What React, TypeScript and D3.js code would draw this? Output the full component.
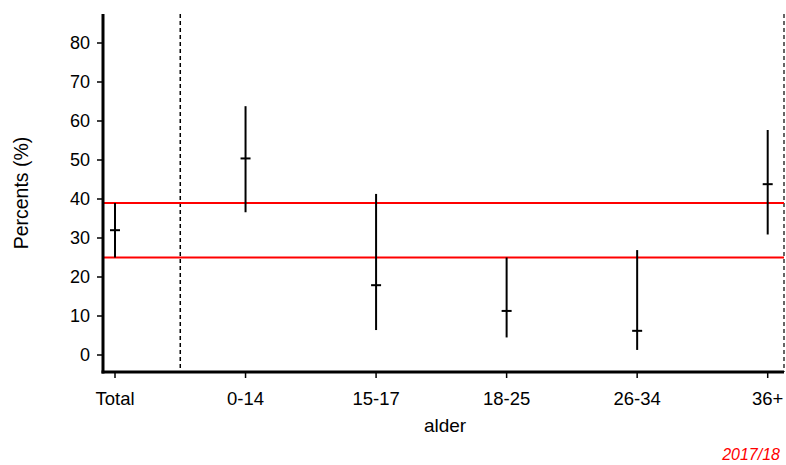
import React from "react";
import * as d3 from "d3";

const categories = ["Total", "0-14", "15-17", "18-25", "26-34", "36+"];
const means = [32.0, 50.4, 17.9, 11.3, 6.2, 43.8];
const lowers = [25.0, 36.6, 6.4, 4.5, 1.3, 30.9];
const uppers = [39.0, 63.8, 41.3, 25.0, 26.9, 57.7];
const refLines = [25.0, 39.0];
const yTicks = [0, 10, 20, 30, 40, 50, 60, 70, 80];

const W = 786;
const H = 465;
const FONT = "'Liberation Sans', Arial, sans-serif";

export default function App() {
  const plotLeft = 103;
  const plotRight = 784;
  const plotTop = 14;
  const plotBottom = 372;

  const x = d3.scalePoint<string>().domain(categories).range([115, 767.7]);
  const y = d3.scaleLinear().domain([0, 80]).range([355, 43]);

  const sepX = ((x(categories[0]) as number) + (x(categories[1]) as number)) / 2;

  return (
    <svg
      width={W}
      height={H}
      style={{ position: "absolute", left: 0, top: 0, background: "#fff" }}
      fontFamily={FONT}
    >
      {/* dashed separators */}
      <line x1={sepX} x2={sepX} y1={plotTop} y2={plotBottom} stroke="#000" strokeWidth={1.5} strokeDasharray="4,3" />
      <line x1={plotRight} x2={plotRight} y1={plotTop} y2={plotBottom} stroke="#000" strokeWidth={1.2} strokeDasharray="4,3" />

      {/* reference lines */}
      {refLines.map((v, i) => (
        <line key={i} x1={plotLeft} x2={plotRight} y1={y(v)} y2={y(v)} stroke="#ff0000" strokeWidth={2} />
      ))}

      {/* error bars */}
      {categories.map((c, i) => {
        const cx = x(c) as number;
        return (
          <g key={c}>
            <line x1={cx} x2={cx} y1={y(uppers[i])} y2={y(lowers[i])} stroke="#000" strokeWidth={2} />
            <line x1={cx - 5} x2={cx + 5} y1={y(means[i])} y2={y(means[i])} stroke="#000" strokeWidth={2} />
          </g>
        );
      })}

      {/* y axis */}
      <line x1={plotLeft} x2={plotLeft} y1={plotTop} y2={plotBottom + 1.5} stroke="#000" strokeWidth={3} />
      {yTicks.map((t) => (
        <g key={t}>
          <line x1={plotLeft - 6} x2={plotLeft} y1={y(t)} y2={y(t)} stroke="#000" strokeWidth={1.5} />
          <text x={90} y={y(t)} dy="0.36em" textAnchor="end" fontSize={18} fill="#000">
            {t}
          </text>
        </g>
      ))}

      {/* x axis */}
      <line x1={plotLeft - 1.5} x2={plotRight} y1={plotBottom} y2={plotBottom} stroke="#000" strokeWidth={3} />
      {categories.map((c) => (
        <g key={c}>
          <line x1={x(c) as number} x2={x(c) as number} y1={plotBottom} y2={plotBottom + 6} stroke="#000" strokeWidth={1.5} />
          <text x={x(c) as number} y={405} textAnchor="middle" fontSize={18.5} fill="#000">
            {c}
          </text>
        </g>
      ))}

      {/* axis titles */}
      <text x={445} y={432} textAnchor="middle" fontSize={19} fill="#000">
        alder
      </text>
      <text
        transform={`translate(28,193) rotate(-90)`}
        textAnchor="middle"
        fontSize={19.5}
        fill="#000"
      >
        Percents (%)
      </text>

      {/* footnote */}
      <text x={780} y={460} textAnchor="end" fontSize={16} fontStyle="italic" fill="#ff0000">
        2017/18
      </text>
    </svg>
  );
}
